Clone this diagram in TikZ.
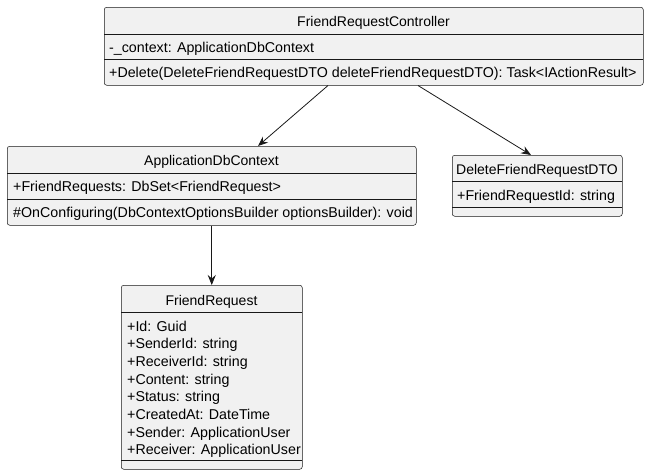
\documentclass[tikz,border=0pt]{standalone}
\usepackage{fontspec}
\setmainfont{Liberation Sans}
\usetikzlibrary{arrows.meta}
\definecolor{umlborder}{HTML}{181818}
\definecolor{umlfill}{HTML}{F1F1F1}
\tikzset{
  classbox/.style={draw=umlborder, fill=umlfill, line width=0.5pt, rounded corners=2.5pt, inner sep=0pt, anchor=north west},
  divider/.style={draw=umlborder, line width=0.5pt},
  hdr/.style={anchor=base, inner sep=0pt, font=\fontsize{14pt}{17pt}\selectfont},
  mem/.style={anchor=base west, inner sep=0pt, font=\fontsize{14.25pt}{17pt}\selectfont},
  arr/.style={draw=umlborder, line width=0.8pt, -{Stealth[length=10pt,width=8pt,inset=3.5pt]}}
}
\begin{document}
\begin{tikzpicture}[x=1pt,y=-1pt]
\useasboundingbox (0,0) rectangle (649,475);
% FriendRequestController
\node[classbox, minimum width=539pt, minimum height=78pt] (frc) at (104,7) {};
\draw[divider] (104,34) -- (643,34);
\draw[divider] (104,59) -- (643,59);
\node[hdr] (frcname) at (373.5,26) {FriendRequestController};
\node[mem] (frca1) at (109,52) {-\_context: ApplicationDbContext};
\node[mem] (frcm1) at (109,77) {+Delete(DeleteFriendRequestDTO deleteFriendRequestDTO): Task<IActionResult>};
% ApplicationDbContext
\node[classbox, minimum width=409pt, minimum height=79pt] (adc) at (7,146) {};
\draw[divider] (7,173) -- (416,173);
\draw[divider] (7,199) -- (416,199);
\node[hdr] (adcname) at (211.5,165) {ApplicationDbContext};
\node[mem] (adca1) at (13,191) {+FriendRequests: DbSet<FriendRequest>};
\node[mem] (adcm1) at (13,217) {\#OnConfiguring(DbContextOptionsBuilder optionsBuilder): void};
% DeleteFriendRequestDTO
\node[classbox, minimum width=170pt, minimum height=61pt] (dto) at (452,155) {};
\draw[divider] (452,181) -- (622,181);
\draw[divider] (452,207) -- (622,207);
\node[hdr] (dtoname) at (537,174) {DeleteFriendRequestDTO};
\node[mem] (dtoa1) at (457,200) {+FriendRequestId: string};
% FriendRequest
\node[classbox, minimum width=181pt, minimum height=184pt] (fr) at (121,285) {};
\draw[divider] (121,312) -- (302,312);
\draw[divider] (121,460) -- (302,460);
\node[hdr] (frname) at (211.5,305) {FriendRequest};
\foreach \t [count=\i from 0] in {+Id: Guid, +SenderId: string, +ReceiverId: string, +Content: string, +Status: string, +CreatedAt: DateTime, +Sender: ApplicationUser, +Receiver: ApplicationUser}
  \node[mem] (fra\i) at (127,331+17.7*\i) {\t};
% connectors
\draw[arr] ([xshift=224pt]frc.south west) -- ([xshift=251pt]adc.north west);
\draw[arr] ([xshift=314pt]frc.south west) -- ([xshift=79pt]dto.north west);
\draw[arr] (adc.south) -- (fr.north);
\end{tikzpicture}
\end{document}
